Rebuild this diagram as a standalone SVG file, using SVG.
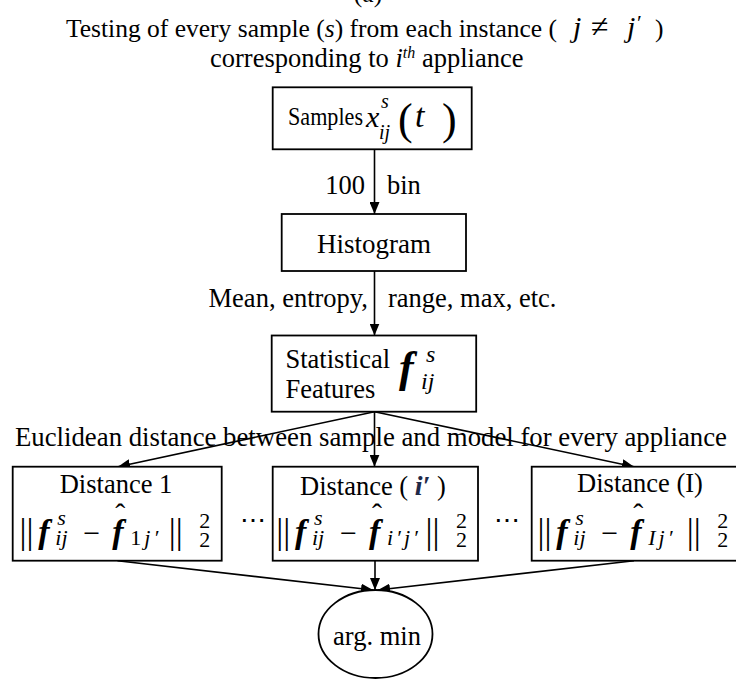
<svg xmlns="http://www.w3.org/2000/svg" width="736" height="679" viewBox="0 0 736 679">
<style>
.box{fill:#fff;stroke:#000;stroke-width:1.8}
.con{stroke:#000;stroke-width:1.6;fill:none}
.t{font-family:"Liberation Serif","Times New Roman",serif;font-size:26.5px;fill:#000}
.c{text-anchor:middle}
.i{font-style:italic}
.bi{font-style:italic;font-weight:bold}
.sm{font-size:22px}
.bar{font-size:35px}
.fm{font-size:34px;font-style:italic;font-weight:bold}
.dots{font-family:"DejaVu Serif","Liberation Serif",serif;font-size:26px}
</style>
<defs>
<marker id="arr" markerWidth="12" markerHeight="10" refX="12" refY="5" orient="auto" markerUnits="userSpaceOnUse">
<path d="M0,0 L12,5 L0,10 z" fill="#000"/>
</marker>
</defs>
<rect width="736" height="679" fill="#fff"/>

<g id="title">
<text class="t c" x="368" y="2" style="font-size:25.5px">(a)</text>
<text class="t" x="66" y="37" style="font-size:25.5px">Testing of every sample (<tspan class="i">s</tspan>) from each instance (</text>
<text class="t i" x="573" y="37" style="font-size:30px">j</text>
<text class="t" x="591" y="37" style="font-size:32px">≠</text>
<text class="t i" x="627" y="37" style="font-size:30px">j</text>
<text class="t" x="637" y="30" style="font-size:22px">′</text>
<text class="t" x="655" y="37" style="font-size:25.5px">)</text>
<text class="t" x="210" y="67">corresponding to <tspan class="i">i</tspan><tspan class="i" style="font-size:16px" dy="-9">th</tspan><tspan dy="9"> appliance</tspan></text>
</g>

<g id="connectors">
<line class="con" x1="374.5" y1="149.3" x2="374.5" y2="214" marker-end="url(#arr)"/>
<line class="con" x1="374.5" y1="271" x2="374.5" y2="335.5" marker-end="url(#arr)"/>
<line class="con" x1="374.5" y1="411.7" x2="118" y2="466.7" marker-end="url(#arr)"/>
<line class="con" x1="374.5" y1="411.7" x2="374.5" y2="466.7" marker-end="url(#arr)"/>
<line class="con" x1="374.5" y1="411.7" x2="634" y2="466.7" marker-end="url(#arr)"/>
<line class="con" x1="117.5" y1="560.7" x2="373" y2="590" marker-end="url(#arr)"/>
<line class="con" x1="375" y1="560.7" x2="375" y2="590" marker-end="url(#arr)"/>
<line class="con" x1="634" y1="560.7" x2="378" y2="590" marker-end="url(#arr)"/>
</g>

<g id="edge-labels">
<text class="t" x="365" y="194" text-anchor="end">100</text>
<text class="t" x="387" y="194">bin</text>
<text class="t" x="368" y="307" text-anchor="end">Mean, entropy,</text>
<text class="t" x="388" y="307">range, max, etc.</text>
<text class="t" x="15" y="446" textLength="712" lengthAdjust="spacingAndGlyphs">Euclidean distance between sample and model for every appliance</text>
</g>

<g id="node-samples">
<rect class="box" x="272.7" y="87.3" width="199" height="62"/>
<text class="t" x="288" y="125" style="font-size:26px" textLength="75" lengthAdjust="spacingAndGlyphs">Samples</text>
<text class="t i" x="366" y="127" style="font-size:30px">x</text>
<text class="t i" x="381" y="108" style="font-size:20px">s</text>
<text class="t i" x="379" y="139" style="font-size:20px">ij</text>
<text class="t" x="398" y="134" style="font-size:44px">(</text>
<text class="t i" x="415" y="127" style="font-size:34px">t</text>
<text class="t" x="442" y="134" style="font-size:44px">)</text>
</g>

<g id="node-histogram">
<rect class="box" x="281.7" y="214" width="184.3" height="57"/>
<text class="t c" x="374" y="253" style="font-size:27px">Histogram</text>
</g>

<g id="node-features">
<rect class="box" x="271.7" y="335.5" width="204.5" height="76.2"/>
<text class="t" x="285.5" y="368">Statistical</text>
<text class="t" x="285.5" y="398">Features</text>
<text class="t bi" x="399" y="382" style="font-size:44px">f</text>
<text class="t i" x="426" y="362" style="font-size:24px">s</text>
<text class="t i" x="421" y="389" style="font-size:24px">ij</text>
</g>

<g id="node-dist1">
<rect class="box" x="12.7" y="466.7" width="209" height="94"/>
<text class="t c" x="116" y="493">Distance 1</text>
<g transform="translate(18,0)">
<text class="t bar" x="1.5" y="543">|</text>
<text class="t bar" x="8.5" y="543">|</text>
<text class="t fm" x="20.3" y="543">f</text>
<text class="t i sm" x="39.3" y="525">s</text>
<text class="t i sm" x="37.3" y="545">ij</text>
<text class="t" x="65.3" y="543" style="font-size:30px">−</text>
<text class="t fm" x="94.3" y="543">f</text>
<text class="t" x="97.3" y="524" style="font-size:30px">ˆ</text>
<text class="t i sm" x="112.3" y="545" letter-spacing="3"><tspan font-style="normal">1</tspan>j′</text>
<text class="t bar" x="150.8" y="543">|</text>
<text class="t bar" x="157.8" y="543">|</text>
<text class="t sm" x="181.3" y="528">2</text>
<text class="t sm" x="181.3" y="547">2</text>
</g>
</g>

<text class="dots" x="240" y="529">⋯</text>
<text class="dots" x="494" y="529">⋯</text>

<g id="node-dist-i">
<rect class="box" x="272.7" y="466.7" width="205.3" height="94"/>
<text class="t" x="300" y="495">Distance ( <tspan class="bi" style="font-size:28px" fill="#1f2a48">i′</tspan> )</text>
<g transform="translate(274.7,0)">
<text class="t bar" x="1.5" y="543">|</text>
<text class="t bar" x="8.5" y="543">|</text>
<text class="t fm" x="20.3" y="543">f</text>
<text class="t i sm" x="39.3" y="525">s</text>
<text class="t i sm" x="37.3" y="545">ij</text>
<text class="t" x="65.3" y="543" style="font-size:30px">−</text>
<text class="t fm" x="94.3" y="543">f</text>
<text class="t" x="97.3" y="524" style="font-size:30px">ˆ</text>
<text class="t i sm" x="112.3" y="545" letter-spacing="3">i′j′</text>
<text class="t bar" x="150.8" y="543">|</text>
<text class="t bar" x="157.8" y="543">|</text>
<text class="t sm" x="181.3" y="528">2</text>
<text class="t sm" x="181.3" y="547">2</text>
</g>
</g>

<g id="node-dist-I">
<rect class="box" x="531.7" y="466.7" width="206" height="94"/>
<text class="t c" x="640" y="492">Distance (I)</text>
<g transform="translate(536,0)">
<text class="t bar" x="1.5" y="543">|</text>
<text class="t bar" x="8.5" y="543">|</text>
<text class="t fm" x="20.3" y="543">f</text>
<text class="t i sm" x="39.3" y="525">s</text>
<text class="t i sm" x="37.3" y="545">ij</text>
<text class="t" x="65.3" y="543" style="font-size:30px">−</text>
<text class="t fm" x="94.3" y="543">f</text>
<text class="t" x="97.3" y="524" style="font-size:30px">ˆ</text>
<text class="t i sm" x="112.3" y="545" letter-spacing="3">Ij′</text>
<text class="t bar" x="150.8" y="543">|</text>
<text class="t bar" x="157.8" y="543">|</text>
<text class="t sm" x="181.3" y="528">2</text>
<text class="t sm" x="181.3" y="547">2</text>
</g>
</g>

<g id="node-argmin">
<ellipse cx="375.5" cy="634" rx="57" ry="44" fill="#fff" stroke="#000" stroke-width="1.8"/>
<text class="t c" x="377" y="645">arg. min</text>
</g>
</svg>
